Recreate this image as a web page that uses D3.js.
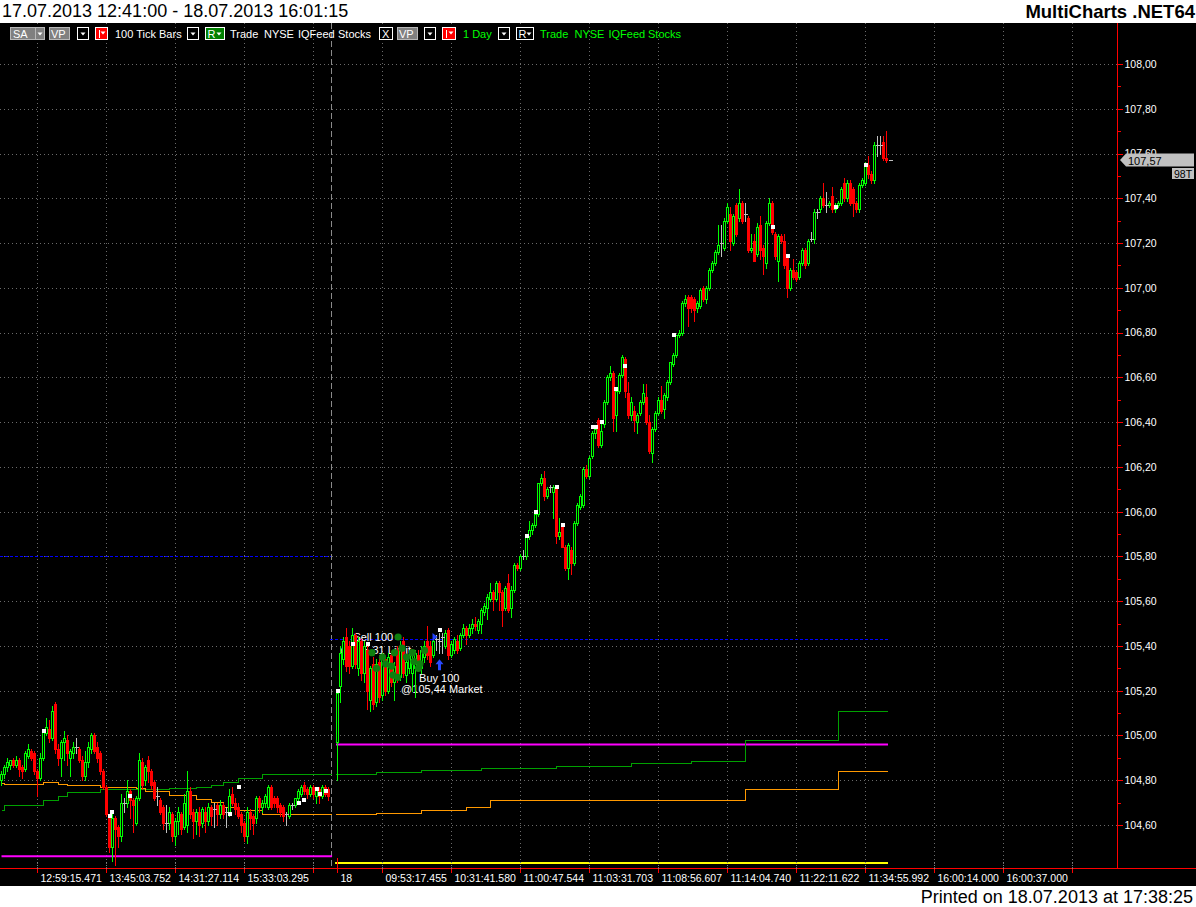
<!DOCTYPE html>
<html><head><meta charset="utf-8">
<script src="https://cdn.jsdelivr.net/npm/d3@7"></script>
<style>
body{margin:0;background:#fff;}
svg{display:block;}
text{font-family:"Liberation Sans",Arial,sans-serif;}
</style></head>
<body><svg id="c" width="1196" height="907"></svg>
<script>
// ---------------- DATA ----------------
const titleText = "17.07.2013 12:41:00 - 18.07.2013 16:01:15";
const brandText = "MultiCharts .NET64";
const printedText = "Printed on 18.07.2013 at 17:38:25";

const priceTicks = [104.6,104.8,105.0,105.2,105.4,105.6,105.8,106.0,106.2,106.4,106.6,106.8,107.0,107.2,107.4,107.6,107.8,108.0];
const timeTickIdx = [12,35,58,81,104,112,127,150,173,196,219,242,265,288,311,334,357];
const timeTickLabels = ["12:59:15.471","13:45:03.752","14:31:27.114","15:33:03.295","","18","09:53:17.455","10:31:41.580","11:00:47.544","11:03:31.703","11:08:56.607","11:14:04.740","11:22:11.622","11:34:55.992","16:00:14.000","16:00:37.000",""];

const day1Start = 0;   // 17.07 bars, [open, high, low, close]
const day1 = [
[104.80,104.84,104.78,104.83],[104.83,104.87,104.81,104.86],[104.86,104.90,104.84,104.88],[104.87,104.89,104.85,104.89],
[104.89,104.90,104.86,104.87],[104.87,104.91,104.86,104.89],[104.89,104.90,104.82,104.85],[104.86,104.87,104.81,104.84],
[104.85,104.93,104.84,104.92],[104.91,104.96,104.90,104.94],[104.93,104.94,104.89,104.90],[104.92,104.93,104.83,104.84],
[104.84,104.85,104.73,104.81],[104.81,104.92,104.80,104.90],[104.90,105.03,104.89,105.02],[105.01,105.08,105.00,105.04],
[105.03,105.07,104.97,104.99],[104.99,105.13,104.98,105.11],[105.14,105.15,104.92,104.94],[104.94,104.96,104.87,104.90],
[104.90,104.98,104.82,104.97],[104.97,105.02,104.89,104.99],[104.98,105.00,104.87,104.92],[104.90,104.94,104.82,104.93],
[104.92,104.97,104.90,104.95],[104.95,104.99,104.92,104.95],[104.94,104.95,104.88,104.89],[104.89,104.91,104.80,104.82],
[104.82,104.93,104.80,104.88],[104.88,104.97,104.86,104.95],[104.94,105.01,104.92,105.00],[105.00,105.01,104.92,104.93],
[104.95,104.97,104.88,104.90],[104.92,104.93,104.83,104.84],[104.84,104.85,104.76,104.77],[104.77,104.78,104.64,104.65],
[104.63,104.64,104.48,104.50],[104.50,104.65,104.44,104.63],[104.63,104.64,104.42,104.58],[104.59,104.60,104.50,104.55],
[104.55,104.74,104.53,104.70],[104.70,104.72,104.66,104.70],[104.70,104.80,104.68,104.75],[104.75,104.76,104.63,104.71],
[104.71,104.72,104.57,104.69],[104.61,104.73,104.60,104.72],[104.72,104.92,104.71,104.89],[104.88,104.90,104.76,104.78],
[104.80,104.87,104.78,104.86],[104.89,104.91,104.79,104.84],[104.84,104.85,104.76,104.78],[104.79,104.80,104.71,104.72],
[104.73,104.77,104.69,104.73],[104.71,104.72,104.65,104.66],[104.68,104.69,104.58,104.61],[104.61,104.69,104.57,104.61],
[104.61,104.68,104.58,104.66],[104.65,104.66,104.53,104.55],[104.55,104.63,104.51,104.62],[104.62,104.68,104.56,104.66],
[104.65,104.66,104.56,104.58],[104.59,104.74,104.58,104.70],[104.60,104.84,104.57,104.75],[104.75,104.77,104.63,104.65],
[104.66,104.67,104.54,104.62],[104.62,104.67,104.56,104.66],[104.66,104.68,104.55,104.60],[104.61,104.68,104.59,104.67],
[104.66,104.68,104.57,104.62],[104.62,104.70,104.60,104.68],[104.68,104.69,104.60,104.64],[104.67,104.70,104.59,104.67],
[104.69,104.70,104.60,104.65],[104.65,104.71,104.63,104.69],[104.69,104.70,104.63,104.65],[104.66,104.68,104.59,104.66],
[104.66,104.76,104.64,104.73],[104.74,104.77,104.69,104.70],[104.70,104.72,104.65,104.67],[104.68,104.70,104.63,104.64],
[104.65,104.66,104.57,104.60],[104.61,104.62,104.53,104.55],[104.55,104.68,104.52,104.66],[104.66,104.67,104.58,104.63],
[104.64,104.65,104.56,104.61],[104.63,104.73,104.61,104.72],[104.72,104.73,104.66,104.68],[104.68,104.71,104.66,104.70],
[104.70,104.74,104.68,104.73],[104.68,104.78,104.67,104.77],[104.77,104.78,104.67,104.68],[104.72,104.73,104.68,104.70],
[104.72,104.73,104.66,104.68],[104.69,104.70,104.64,104.66],[104.68,104.69,104.62,104.64],[104.65,104.66,104.60,104.65],
[104.64,104.70,104.63,104.69],[104.69,104.70,104.67,104.69],[104.69,104.72,104.68,104.72],[104.72,104.76,104.71,104.75],
[104.74,104.78,104.73,104.77],[104.78,104.79,104.74,104.75],[104.76,104.77,104.72,104.74],[104.74,104.78,104.73,104.77],
[104.77,104.78,104.72,104.74],[104.73,104.77,104.70,104.76],[104.76,104.77,104.70,104.73],[104.73,104.78,104.72,104.77],
[104.77,104.78,104.73,104.74],[104.76,104.77,104.71,104.73]
];

const day2Start = 112; // 18.07 bars, [open, high, low, close]
const day2 = [
[104.97,105.20,104.80,105.19],[105.22,105.40,105.15,105.37],[105.34,105.44,105.32,105.42],[105.44,105.48,105.29,105.31],
[105.40,105.42,105.28,105.31],[105.31,105.48,105.30,105.45],[105.45,105.46,105.30,105.32],[105.30,105.44,105.27,105.42],
[105.42,105.43,105.25,105.28],[105.28,105.42,105.24,105.40],[105.38,105.40,105.12,105.20],[105.16,105.31,105.11,105.30],
[105.32,105.35,105.12,105.14],[105.15,105.34,105.13,105.32],[105.33,105.36,105.15,105.17],[105.18,105.37,105.16,105.36],
[105.34,105.35,105.18,105.20],[105.20,105.37,105.19,105.35],[105.36,105.37,105.22,105.24],[105.24,105.33,105.16,105.31],
[105.38,105.40,105.24,105.26],[105.26,105.42,105.25,105.40],[105.42,105.44,105.26,105.28],[105.27,105.35,105.24,105.33],
[105.30,105.38,105.28,105.36],[105.28,105.36,105.20,105.34],[105.30,105.38,105.17,105.37],[105.36,105.38,105.29,105.31],
[105.30,105.40,105.28,105.38],[105.35,105.42,105.33,105.40],[105.42,105.49,105.34,105.36],[105.40,105.42,105.31,105.33],
[105.36,105.43,105.35,105.42],[105.43,105.45,105.38,105.43],[105.42,105.46,105.37,105.42],[105.44,105.46,105.37,105.44],
[105.40,105.47,105.39,105.46],[105.47,105.48,105.34,105.36],[105.36,105.42,105.35,105.41],[105.38,105.44,105.37,105.43],
[105.42,105.45,105.37,105.38],[105.39,105.46,105.38,105.45],[105.45,105.50,105.44,105.48],[105.48,105.49,105.41,105.45],
[105.45,105.50,105.44,105.48],[105.48,105.52,105.46,105.50],[105.50,105.53,105.47,105.49],[105.47,105.52,105.46,105.51],
[105.50,105.57,105.46,105.56],[105.55,105.59,105.54,105.58],[105.57,105.63,105.52,105.62],[105.61,105.68,105.60,105.64],
[105.64,105.65,105.56,105.61],[105.61,105.69,105.60,105.68],[105.68,105.69,105.56,105.64],[105.64,105.65,105.49,105.56],
[105.57,105.67,105.56,105.66],[105.68,105.72,105.55,105.56],[105.57,105.67,105.53,105.65],[105.65,105.77,105.64,105.76],
[105.76,105.77,105.74,105.75],[105.75,105.81,105.74,105.80],[105.80,105.83,105.79,105.80],[105.80,105.89,105.79,105.89],
[105.89,105.96,105.88,105.92],[105.92,105.95,105.90,105.94],[105.94,106.00,105.93,105.99],[105.99,106.13,105.98,106.13],
[106.13,106.17,106.12,106.15],[106.15,106.18,106.05,106.07],[106.07,106.11,106.06,106.10],[106.11,106.12,106.09,106.11],
[106.09,106.12,105.97,106.11],[106.11,106.12,105.86,105.89],[105.89,105.97,105.88,105.91],[105.93,105.95,105.84,105.84],
[105.84,105.85,105.74,105.75],[105.75,105.86,105.70,105.85],[105.83,105.84,105.72,105.77],[105.77,105.96,105.76,105.95],
[105.95,106.04,105.94,106.03],[106.02,106.08,106.01,106.07],[106.03,106.20,106.02,106.19],[106.19,106.21,106.15,106.16],
[106.16,106.25,106.15,106.24],[106.25,106.36,106.24,106.35],[106.35,106.38,106.33,106.37],[106.41,106.42,106.29,106.30],
[106.30,106.39,106.29,106.36],[106.39,106.50,106.38,106.49],[106.49,106.61,106.48,106.60],[106.60,106.65,106.59,106.62],
[106.62,106.63,106.36,106.42],[106.43,106.55,106.36,106.54],[106.54,106.62,106.53,106.61],[106.61,106.70,106.60,106.69],
[106.68,106.69,106.51,106.54],[106.53,106.58,106.42,106.43],[106.43,106.51,106.41,106.49],[106.45,106.47,106.36,106.41],
[106.40,106.44,106.35,106.43],[106.44,106.50,106.43,106.49],[106.49,106.57,106.48,106.53],[106.51,106.57,106.39,106.40],
[106.40,106.43,106.26,106.27],[106.26,106.38,106.22,106.37],[106.37,106.45,106.36,106.44],[106.44,106.51,106.43,106.50],
[106.50,106.56,106.44,106.45],[106.46,106.53,106.42,106.52],[106.51,106.59,106.50,106.58],[106.58,106.67,106.57,106.67],
[106.66,106.71,106.65,106.70],[106.70,106.79,106.69,106.79],[106.79,106.81,106.78,106.80],[106.80,106.94,106.79,106.93],
[106.93,106.97,106.92,106.95],[106.96,106.97,106.83,106.91],[106.96,106.97,106.89,106.91],[106.95,106.96,106.85,106.90],
[106.91,106.94,106.89,106.93],[106.92,107.00,106.91,106.99],[107.00,107.01,106.94,106.95],[106.95,107.01,106.93,107.00],
[107.00,107.09,106.99,107.08],[107.08,107.12,107.07,107.11],[107.11,107.17,107.10,107.16],[107.16,107.28,107.15,107.19],
[107.20,107.28,107.14,107.20],[107.18,107.31,107.17,107.30],[107.30,107.38,107.29,107.36],[107.33,107.36,107.17,107.21],
[107.20,107.33,107.19,107.32],[107.37,107.38,107.23,107.24],[107.31,107.44,107.30,107.38],[107.38,107.39,107.29,107.30],
[107.33,107.38,107.30,107.33],[107.31,107.32,107.16,107.17],[107.17,107.24,107.16,107.18],[107.21,107.24,107.12,107.12],
[107.15,107.29,107.14,107.27],[107.28,107.32,107.13,107.17],[107.18,107.19,107.06,107.14],[107.11,107.30,107.09,107.29],
[107.29,107.40,107.28,107.38],[107.38,107.39,107.24,107.25],[107.24,107.25,107.13,107.14],[107.12,107.24,107.03,107.23],
[107.23,107.24,107.20,107.21],[107.21,107.24,107.09,107.10],[107.14,107.15,106.96,107.00],[107.00,107.09,106.99,107.08],
[107.08,107.13,107.04,107.05],[107.07,107.08,107.03,107.04],[107.05,107.12,107.04,107.11],[107.11,107.18,107.10,107.17],
[107.17,107.18,107.09,107.10],[107.11,107.22,107.10,107.21],[107.22,107.25,107.21,107.22],[107.22,107.35,107.20,107.34],
[107.34,107.35,107.31,107.34],[107.35,107.41,107.34,107.40],[107.40,107.47,107.36,107.37],[107.37,107.43,107.34,107.37],
[107.37,107.39,107.36,107.38],[107.41,107.45,107.34,107.35],[107.35,107.38,107.34,107.37],[107.37,107.39,107.36,107.38],
[107.38,107.45,107.37,107.44],[107.47,107.49,107.39,107.40],[107.40,107.48,107.39,107.47],[107.47,107.48,107.37,107.38],
[107.44,107.45,107.32,107.38],[107.38,107.39,107.34,107.35],[107.35,107.47,107.34,107.46],[107.46,107.49,107.45,107.48],
[107.47,107.56,107.46,107.55],[107.55,107.59,107.49,107.51],[107.51,107.52,107.47,107.48],[107.48,107.65,107.47,107.64],
[107.64,107.68,107.59,107.64],[107.64,107.68,107.60,107.64],[107.65,107.68,107.57,107.58],[107.58,107.70,107.56,107.57]
];

const lastPrice = 107.57;
const lastTag = "107,57";
const tickCountTag = "98T";

// white signal markers [bar index, price]
const markers = [[14,105.02],[36,104.64],[37,104.66],[43,104.73],[76,104.65],[79,104.77],[99,104.70],[101,104.71],[105,104.76],[106,104.74],[108,104.75],
[112,105.20],[117,105.41],[122,105.41],[146,105.47],[175,105.89],[178,106.00],[185,106.11],[187,105.94],[197,106.38],[198,106.38],[200,106.40],[205,106.55],[208,106.65],[224,106.79],[257,107.27],[262,107.14],[278,107.36],[288,107.55]];

// green trade dots [bar index, price]
const tradeDots = [[123.5,105.37],[125,105.30],[127,105.35],[128,105.32],[130,105.31],[130.5,105.27],[132,105.26],[131,105.37],[132.2,105.44],[133.5,105.39],[135,105.35],[137,105.37],[137.5,105.33],[139,105.30],[139.5,105.32],[141,105.38]];

// step indicator lines [bar index, price] (step-after)
const green1 = [[0,104.667],[1,104.688],[14,104.711],[19,104.729],[22,104.746],[33,104.759],[56,104.764],[65,104.768],[70,104.778],[74,104.792],[79,104.808],[87,104.826],[110,104.826]];
const orange1 = [[0,104.786],[1,104.782],[14,104.790],[19,104.782],[22,104.777],[33,104.771],[45,104.764],[48,104.752],[56,104.732],[65,104.715],[70,104.701],[74,104.679],[79,104.667],[87,104.648],[110,104.648]];
const green2 = [[111.5,104.83],[125,104.835],[140,104.845],[160,104.855],[185,104.865],[210,104.875],[230,104.885],[248,104.98],[279,105.11],[295.5,105.11]];
const orange2 = [[111.5,104.65],[125,104.655],[140,104.665],[155,104.68],[163,104.71],[248,104.76],[279,104.84],[295.5,104.84]];

// horizontal levels [fromIndex, toIndex, price]
const magentaLevels = [[0,110.2,104.46],[111.5,295.5,104.96]];
const yellowLevels = [[111.2,295.5,104.43]];
const blueLevels = [[-0.5,109.8,105.80],[109.5,295.5,105.43]];

// order annotations
const orderTexts = [
  {i:117.3, p:105.42, t:"Sell 100"},
  {i:112.8, p:105.365, t:"@105,31 Limit"},
  {i:139.2, p:105.24, t:"Buy 100"},
  {i:133.2, p:105.19, t:"@105,44 Market"}
];
const buyArrow = {i:146, p:105.34};
const posMarker = {i:144, p:105.44};

// ---------------- SCALES ----------------
const svg = d3.select("#c");
const x = d3.scaleLinear().domain([0, 372]).range([1.5, 1117.5]);
const y = d3.scaleLinear().domain([104.6, 108.0]).range([825, 64]);
const axisX = 1117.5, baseY = 868.5;

svg.append("rect").attr("width",1196).attr("height",907).attr("fill","#fff");
svg.append("rect").attr("x",0).attr("y",23).attr("width",1196).attr("height",863).attr("fill","#000");

// header texts
svg.append("text").attr("x",2).attr("y",17).attr("font-size",18).attr("fill","#000").text(titleText);
svg.append("text").attr("x",1195).attr("y",18).attr("text-anchor","end").attr("font-size",18.5).attr("font-weight","bold").attr("fill","#000").text(brandText);
svg.append("text").attr("x",1193).attr("y",903).attr("text-anchor","end").attr("font-size",18).attr("fill","#000").text(printedText);

// grid
const grid = svg.append("g").attr("shape-rendering","crispEdges");
grid.selectAll("line.h").data(priceTicks).join("line")
  .attr("x1",0).attr("x2",axisX).attr("y1",d=>Math.round(y(d))+0.5).attr("y2",d=>Math.round(y(d))+0.5)
  .attr("stroke","#6a6a6a").attr("stroke-dasharray","1,3");
grid.selectAll("line.v").data(timeTickIdx.filter(d=>d!==112)).join("line")
  .attr("x1",d=>x(d)).attr("x2",d=>x(d)).attr("y1",23).attr("y2",baseY)
  .attr("stroke","#6a6a6a").attr("stroke-dasharray","1,3");
// day separator
grid.append("line").attr("x1",x(110)).attr("x2",x(110)).attr("y1",23).attr("y2",baseY)
  .attr("stroke","#8a8a8a").attr("stroke-dasharray","6,3");

const plot = svg.append("g");
// levels
plot.selectAll("line.mag").data(magentaLevels).join("line")
  .attr("x1",d=>x(d[0])).attr("x2",d=>x(d[1])).attr("y1",d=>y(d[2])).attr("y2",d=>y(d[2]))
  .attr("stroke","#ff00ff").attr("stroke-width",2);
plot.selectAll("line.yel").data(yellowLevels).join("line")
  .attr("x1",d=>x(d[0])).attr("x2",d=>x(d[1])).attr("y1",d=>y(d[2])).attr("y2",d=>y(d[2]))
  .attr("stroke","#ffff00").attr("stroke-width",2);
plot.selectAll("line.blu").data(blueLevels).join("line")
  .attr("x1",d=>x(d[0])).attr("x2",d=>x(d[1])).attr("y1",d=>Math.round(y(d[2]))+0.5).attr("y2",d=>Math.round(y(d[2]))+0.5)
  .attr("stroke","#0000ff").attr("stroke-dasharray","3,2").attr("shape-rendering","crispEdges");

// step lines
const stepLine = d3.line().x(d=>x(d[0])).y(d=>Math.round(y(d[1]))+0.5).curve(d3.curveStepAfter);
[[green1,"#00a000"],[green2,"#00a000"],[orange1,"#ff9900"],[orange2,"#ff9900"]].forEach(([data,c])=>{
  plot.append("path").attr("d",stepLine(data)).attr("fill","none").attr("stroke",c).attr("stroke-width",1).attr("shape-rendering","crispEdges");
});

// order texts (below bars)
plot.selectAll("text.ord").data(orderTexts).join("text")
  .attr("x",d=>x(d.i)).attr("y",d=>y(d.p)).attr("font-size",11).attr("fill","#fff").text(d=>d.t);

// bars
const bars = [
  ...day1.map((d,k)=>({i:day1Start+k,o:d[0],h:d[1],l:d[2],c:d[3]})),
  ...day2.map((d,k)=>({i:day2Start+k,o:d[0],h:d[1],l:d[2],c:d[3]}))
];
const col = d => d.c>d.o ? "#00ff00" : (d.c<d.o ? "#ff0000" : "#c0c0c0");
const bg = plot.append("g").attr("shape-rendering","crispEdges");
bg.selectAll("line.wick").data(bars).join("line")
  .attr("x1",d=>x(d.i)).attr("x2",d=>x(d.i))
  .attr("y1",d=>Math.round(y(d.h))).attr("y2",d=>Math.round(y(d.l))+1)
  .attr("stroke",col);
bg.selectAll("rect.up").data(bars.filter(d=>d.c>d.o)).join("rect")
  .attr("x",d=>x(d.i)-1).attr("y",d=>Math.round(y(d.c))+0.5)
  .attr("width",2).attr("height",d=>Math.max(1,Math.round(y(d.o))-Math.round(y(d.c))))
  .attr("fill","#000").attr("stroke","#00ff00");
bg.selectAll("rect.dn").data(bars.filter(d=>d.c<d.o)).join("rect")
  .attr("x",d=>x(d.i)-1.5).attr("y",d=>Math.round(y(d.o)))
  .attr("width",3).attr("height",d=>Math.max(1,Math.round(y(d.c))-Math.round(y(d.o))+1))
  .attr("fill","#ff0000");
bg.selectAll("line.dj").data(bars.filter(d=>d.c===d.o)).join("line")
  .attr("x1",d=>x(d.i)-2).attr("x2",d=>x(d.i)+2)
  .attr("y1",d=>Math.round(y(d.o))+0.5).attr("y2",d=>Math.round(y(d.o))+0.5)
  .attr("stroke","#c0c0c0");

// trade dots
plot.selectAll("circle.td").data(tradeDots).join("circle")
  .attr("cx",d=>x(d[0])).attr("cy",d=>y(d[1])).attr("r",3.6).attr("fill","#0f7f0f");

// markers
plot.selectAll("rect.mk").data(markers).join("rect")
  .attr("x",d=>Math.round(x(d[0]))-2).attr("y",d=>Math.round(y(d[1]))-2)
  .attr("width",4).attr("height",4).attr("fill","#fff").attr("shape-rendering","crispEdges");

// buy arrow & position marker
{
  const ax = x(buyArrow.i), ay = y(buyArrow.p);
  plot.append("path").attr("d",`M${ax},${ay} L${ax+4},${ay+5} L${ax+1.5},${ay+5} L${ax+1.5},${ay+11} L${ax-1.5},${ay+11} L${ax-1.5},${ay+5} L${ax-4},${ay+5} Z`).attr("fill","#2848ff");
  const px = x(posMarker.i), py = y(posMarker.p);
  plot.append("path").attr("d",`M${px-1},${py-4} L${px+4},${py} L${px-1},${py+4} Z`).attr("fill","#2040ff");
}

// last price dash
plot.append("line").attr("x1",x(295)+2).attr("x2",x(295)+6).attr("y1",Math.round(y(lastPrice))+0.5).attr("y2",Math.round(y(lastPrice))+0.5)
  .attr("stroke","#c0c0c0").attr("shape-rendering","crispEdges");

// ---------------- AXES ----------------
const ax = svg.append("g").attr("shape-rendering","crispEdges");
ax.append("line").attr("x1",axisX).attr("x2",axisX).attr("y1",23).attr("y2",baseY).attr("stroke","#ff0000");
ax.append("line").attr("x1",0).attr("x2",1196).attr("y1",baseY).attr("y2",baseY).attr("stroke","#ff0000");
const yAxis = d3.axisRight(y).tickValues(priceTicks).tickSize(5).tickFormat(d=>d.toFixed(2).replace(".",","));
const yg = svg.append("g").attr("transform",`translate(${axisX},0)`).call(yAxis);
yg.select(".domain").remove();
yg.selectAll(".tick line").attr("stroke","#ff0000").attr("shape-rendering","crispEdges");
yg.selectAll(".tick text").attr("fill","#fff").attr("font-size",10.5).attr("x",7).attr("font-family","Liberation Sans, Arial, sans-serif");
const minor = d3.range(priceTicks.length-1).map(k=>priceTicks[k]+0.1);
ax.selectAll("line.mn").data(minor).join("line")
  .attr("x1",axisX).attr("x2",axisX+3).attr("y1",d=>Math.round(y(d))+0.5).attr("y2",d=>Math.round(y(d))+0.5).attr("stroke","#ff0000");

// time axis
const xg = svg.append("g");
xg.selectAll("line.tk").data(timeTickIdx).join("line")
  .attr("x1",d=>x(d)).attr("x2",d=>x(d)).attr("y1",baseY).attr("y2",baseY+4)
  .attr("stroke","#ff0000").attr("shape-rendering","crispEdges");
xg.selectAll("line.tk2").data(timeTickIdx).join("line")
  .attr("x1",d=>x(d)).attr("x2",d=>x(d)).attr("y1",d=>d===112?858:862).attr("y2",baseY)
  .attr("stroke",d=>d===112?"#ff0000":"#808080").attr("stroke-dasharray",d=>d===112?null:"1,2").attr("shape-rendering","crispEdges");
xg.selectAll("text.tl").data(timeTickIdx).join("text")
  .attr("x",d=>x(d)+3).attr("y",882).attr("font-size",10.5).attr("fill","#fff")
  .text((d,k)=>timeTickLabels[k]);

// last price tag
{
  const ty = Math.round(y(lastPrice));
  svg.append("path").attr("d",`M1120,${ty} L1126,${ty-6.5} L1194,${ty-6.5} L1194,${ty+6.5} L1126,${ty+6.5} Z`).attr("fill","#c0c0c0");
  svg.append("text").attr("x",1128).attr("y",ty+4.5).attr("font-size",11).attr("fill","#000").text(lastTag);
  svg.append("rect").attr("x",1172).attr("y",ty+8).attr("width",22).attr("height",11).attr("fill","#c0c0c0");
  svg.append("text").attr("x",1174).attr("y",ty+17.5).attr("font-size",10.5).attr("fill","#000").text(tickCountTag);
}

// ---------------- TOOLBAR ----------------
const tb = svg.append("g").attr("shape-rendering","crispEdges");
function tri(cx, cy, c){ tb.append("path").attr("d",`M${cx-2.5},${cy-1} L${cx+2.5},${cy-1} L${cx},${cy+2} Z`).attr("fill",c).attr("shape-rendering","auto"); }
function box(x0,w,fill,stroke){ tb.append("rect").attr("x",x0+0.5).attr("y",27.5).attr("width",w).attr("height",12).attr("fill",fill).attr("stroke",stroke); }
function txt(x0,t,c){ tb.append("text").attr("x",x0).attr("y",38).attr("font-size",11).attr("fill",c).text(t); }
box(10,25,"#808080","#b8b8b8"); txt(13,"SA","#fff");
box(35,9,"#808080","#b8b8b8"); tri(40,33.5,"#fff");
box(49,20,"#808080","#b8b8b8"); txt(51,"VP","#fff");
box(77,11,"#000","#fff"); tri(83,33.5,"#fff");
box(95,12,"#ff0000","#fff"); tb.append("line").attr("x1",99.5).attr("x2",99.5).attr("y1",30).attr("y2",38).attr("stroke","#fff"); tri(103,32.5,"#fff");
txt(115,"100 Tick Bars","#fff");
box(187,11,"#000","#fff"); tri(193,33.5,"#fff");
box(205,19,"#008000","#fff"); txt(207.5,"R","#fff"); tri(219,33.5,"#fff");
txt(230,"Trade","#fff"); txt(264,"NYSE","#fff"); txt(298,"IQFeed","#fff"); txt(338,"Stocks","#fff");
box(379,13,"#000","#fff"); txt(382,"X","#fff");
box(397,20,"#808080","#b8b8b8"); txt(399,"VP","#fff");
box(424,11,"#000","#fff"); tri(430,33.5,"#fff");
box(442,13,"#ff0000","#fff"); tb.append("line").attr("x1",446.5).attr("x2",446.5).attr("y1",30).attr("y2",38).attr("stroke","#fff"); tri(451,32.5,"#fff");
txt(463,"1 Day","#00ff00");
box(498,11,"#000","#fff"); tri(504,33.5,"#fff");
box(516,17,"#000","#fff"); txt(518.5,"R","#fff"); tri(529,33.5,"#fff");
txt(540,"Trade","#00ff00"); txt(574.5,"NYSE","#00ff00"); txt(608.5,"IQFeed","#00ff00"); txt(648,"Stocks","#00ff00");
</script></body></html>
